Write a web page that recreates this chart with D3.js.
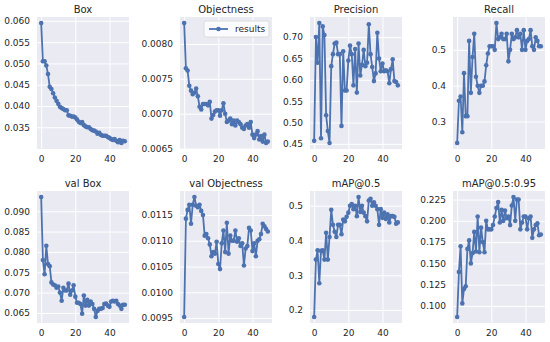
<!DOCTYPE html>
<html>
<head>
<meta charset="utf-8">
<script src="https://cdn.jsdelivr.net/npm/d3@7"></script>
<style>
  body { margin: 0; background: #fff; }
  svg { display: block; font-family: "DejaVu Sans", sans-serif; }
</style>
</head>
<body>
<svg width="550" height="342"></svg>
<script>
const epochs = d3.range(50);

const box = [0.0595, 0.0505, 0.0505, 0.0495, 0.0475, 0.0445, 0.0440, 0.0430, 0.0420, 0.0412,
  0.0405, 0.0398, 0.0395, 0.0393, 0.0390, 0.0390, 0.0378, 0.0377, 0.0375, 0.0375,
  0.0373, 0.0368, 0.0363, 0.0360, 0.0362, 0.0355, 0.0352, 0.0350, 0.0350, 0.0346,
  0.0343, 0.0342, 0.0340, 0.0335, 0.0337, 0.0332, 0.0330, 0.0330, 0.0330, 0.0327,
  0.0325, 0.0322, 0.0320, 0.0322, 0.0318, 0.0315, 0.0320, 0.0313, 0.0318, 0.0317];
const objectness = [0.00830, 0.00765, 0.00762, 0.00740, 0.00733, 0.00728, 0.00730, 0.00736, 0.00725, 0.00710,
  0.00706, 0.00714, 0.00714, 0.00714, 0.00712, 0.00717, 0.00693, 0.00698, 0.00703, 0.00705,
  0.00705, 0.00697, 0.00705, 0.00715, 0.00700, 0.00688, 0.00690, 0.00693, 0.00685, 0.00690,
  0.00683, 0.00690, 0.00688, 0.00685, 0.00680, 0.00678, 0.00683, 0.00685, 0.00680, 0.00688,
  0.00670, 0.00665, 0.00670, 0.00675, 0.00663, 0.00668, 0.00660, 0.00670, 0.00658, 0.00660];
const precision = [0.457, 0.700, 0.640, 0.733, 0.463, 0.725, 0.705, 0.517, 0.480, 0.452,
  0.632, 0.660, 0.685, 0.687, 0.660, 0.660, 0.492, 0.667, 0.575, 0.575,
  0.645, 0.680, 0.660, 0.587, 0.672, 0.570, 0.685, 0.610, 0.635, 0.670,
  0.632, 0.640, 0.730, 0.660, 0.630, 0.597, 0.615, 0.710, 0.650, 0.620,
  0.638, 0.620, 0.622, 0.620, 0.592, 0.625, 0.648, 0.597, 0.595, 0.587];
const recall = [0.240, 0.358, 0.370, 0.270, 0.435, 0.315, 0.315, 0.525, 0.380, 0.480,
  0.545, 0.425, 0.400, 0.380, 0.400, 0.400, 0.412, 0.457, 0.490, 0.510,
  0.510, 0.510, 0.500, 0.575, 0.530, 0.535, 0.545, 0.530, 0.530, 0.545,
  0.468, 0.500, 0.545, 0.530, 0.535, 0.555, 0.535, 0.545, 0.500, 0.555,
  0.500, 0.525, 0.530, 0.555, 0.510, 0.500, 0.535, 0.525, 0.510, 0.510];
const valBox = [0.0935, 0.0780, 0.0745, 0.0815, 0.0770, 0.0765, 0.0725, 0.0720, 0.0718, 0.0712,
  0.0715, 0.0700, 0.0680, 0.0712, 0.0705, 0.0705, 0.0722, 0.0695, 0.0705, 0.0718,
  0.0690, 0.0675, 0.0675, 0.0672, 0.0648, 0.0693, 0.0668, 0.0682, 0.0668, 0.0678,
  0.0672, 0.0660, 0.0640, 0.0655, 0.0660, 0.0660, 0.0662, 0.0672, 0.0673, 0.0668,
  0.0665, 0.0678, 0.0680, 0.0678, 0.0680, 0.0672, 0.0668, 0.0660, 0.0670, 0.0670];
const valObjectness = [0.00952, 0.01143, 0.01160, 0.01170, 0.01133, 0.01170, 0.01185, 0.01168, 0.01165, 0.01170,
  0.01158, 0.01150, 0.01110, 0.01113, 0.01105, 0.01093, 0.01070, 0.01078, 0.01075, 0.01098,
  0.01055, 0.01045, 0.01095, 0.01120, 0.01078, 0.01135, 0.01075, 0.01110, 0.01100, 0.01100,
  0.01120, 0.01098, 0.01105, 0.01090, 0.01095, 0.01052, 0.01085, 0.01090, 0.01125, 0.01120,
  0.01080, 0.01095, 0.01070, 0.01100, 0.01103, 0.01113, 0.01133, 0.01128, 0.01123, 0.01118];
const map50 = [0.180, 0.345, 0.372, 0.277, 0.370, 0.372, 0.345, 0.422, 0.345, 0.410,
  0.488, 0.445, 0.425, 0.410, 0.445, 0.445, 0.418, 0.460, 0.455, 0.468,
  0.480, 0.500, 0.505, 0.490, 0.500, 0.470, 0.525, 0.482, 0.500, 0.480,
  0.470, 0.455, 0.515, 0.520, 0.500, 0.510, 0.500, 0.490, 0.445, 0.490,
  0.465, 0.480, 0.462, 0.475, 0.452, 0.470, 0.470, 0.468, 0.448, 0.452];
const map5095 = [0.087, 0.140, 0.170, 0.103, 0.120, 0.123, 0.167, 0.177, 0.150, 0.162,
  0.187, 0.164, 0.205, 0.163, 0.192, 0.175, 0.163, 0.200, 0.190, 0.190,
  0.190, 0.195, 0.205, 0.215, 0.222, 0.198, 0.213, 0.200, 0.212, 0.203,
  0.205, 0.195, 0.218, 0.228, 0.200, 0.225, 0.225, 0.190, 0.198, 0.205,
  0.205, 0.190, 0.203, 0.205, 0.180, 0.190, 0.195, 0.197, 0.183, 0.184];

const titles = ["Box", "Objectness", "Precision", "Recall", "val Box", "val Objectness", "mAP@0.5", "mAP@0.5:0.95"];
const xTicks = [0, 20, 40];
const boxTicks = [0.035, 0.040, 0.045, 0.050, 0.055, 0.060];
const objTicks = [0.0065, 0.0070, 0.0075, 0.0080];
const precTicks = [0.45, 0.50, 0.55, 0.60, 0.65, 0.70];
const recallTicks = [0.3, 0.4, 0.5];
const valBoxTicks = [0.065, 0.070, 0.075, 0.080, 0.085, 0.090];
const valObjTicks = [0.0095, 0.0100, 0.0105, 0.0110, 0.0115];
const map50Ticks = [0.2, 0.3, 0.4, 0.5];
const map5095Ticks = [0.100, 0.125, 0.150, 0.175, 0.200, 0.225];

const panels = [
  { values: box, ticks: boxTicks, fmt: ".3f" },
  { values: objectness, ticks: objTicks, fmt: ".4f", legend: true },
  { values: precision, ticks: precTicks, fmt: ".2f" },
  { values: recall, ticks: recallTicks, fmt: ".1f" },
  { values: valBox, ticks: valBoxTicks, fmt: ".3f" },
  { values: valObjectness, ticks: valObjTicks, fmt: ".4f" },
  { values: map50, ticks: map50Ticks, fmt: ".1f" },
  { values: map5095, ticks: map5095Ticks, fmt: ".3f" }
];

const svg = d3.select("svg");
const colLeft = [37, 180, 310, 453];
const rowTop = [17, 191];
const plotW = 92;
const plotH = 132;
const blue = "#4C72B0";
const ink = "#262626";

panels.forEach((p, i) => {
  const g = svg.append("g")
    .attr("transform", `translate(${colLeft[i % 4]},${rowTop[Math.floor(i / 4)]})`);

  // matplotlib style 5% margins
  const x = d3.scaleLinear().domain([-2.45, 51.45]).range([0, plotW]);
  const [lo, hi] = d3.extent(p.values);
  const pad = (hi - lo) * 0.05;
  const y = d3.scaleLinear().domain([lo - pad, hi + pad]).range([plotH, 0]);

  g.append("rect").attr("width", plotW).attr("height", plotH).attr("fill", "#EAEAF2");

  const yAxis = g.append("g")
    .call(d3.axisLeft(y).tickValues(p.ticks).tickFormat(d3.format(p.fmt)).tickSize(-plotW).tickPadding(7));
  const xAxis = g.append("g").attr("transform", `translate(0,${plotH})`)
    .call(d3.axisBottom(x).tickValues(xTicks).tickSize(-plotH).tickPadding(7));
  [yAxis, xAxis].forEach(a => {
    a.select(".domain").remove();
    a.selectAll("line").attr("stroke", "#fff").attr("stroke-width", 1);
    a.selectAll("text").attr("fill", ink).attr("font-size", 9).attr("font-family", "DejaVu Sans");
  });

  g.append("path").datum(p.values)
    .attr("fill", "none")
    .attr("stroke", blue)
    .attr("stroke-width", 1.8)
    .attr("stroke-linejoin", "round")
    .attr("d", d3.line().x((d, j) => x(epochs[j])).y(d => y(d)));

  g.selectAll("circle").data(p.values).join("circle")
    .attr("cx", (d, j) => x(epochs[j]))
    .attr("cy", d => y(d))
    .attr("r", 2.3)
    .attr("fill", blue);

  g.append("text")
    .attr("x", plotW / 2)
    .attr("y", -4.5)
    .attr("text-anchor", "middle")
    .attr("fill", ink)
    .attr("font-size", 10)
    .text(titles[i]);

  if (p.legend) {
    const lg = g.append("g").attr("transform", `translate(${plotW - 68},4)`);
    lg.append("rect").attr("width", 65).attr("height", 16).attr("rx", 2)
      .attr("fill", "rgba(255,255,255,0.8)").attr("stroke", "#d6d6d6").attr("stroke-width", 0.8);
    lg.append("line").attr("x1", 5).attr("x2", 24).attr("y1", 8).attr("y2", 8)
      .attr("stroke", blue).attr("stroke-width", 1.8);
    lg.append("circle").attr("cx", 14.5).attr("cy", 8).attr("r", 2.3).attr("fill", blue);
    lg.append("text").attr("x", 31).attr("y", 8).attr("dy", "0.35em")
      .attr("fill", ink).attr("font-size", 9).text("results");
  }
});
</script>
</body>
</html>
